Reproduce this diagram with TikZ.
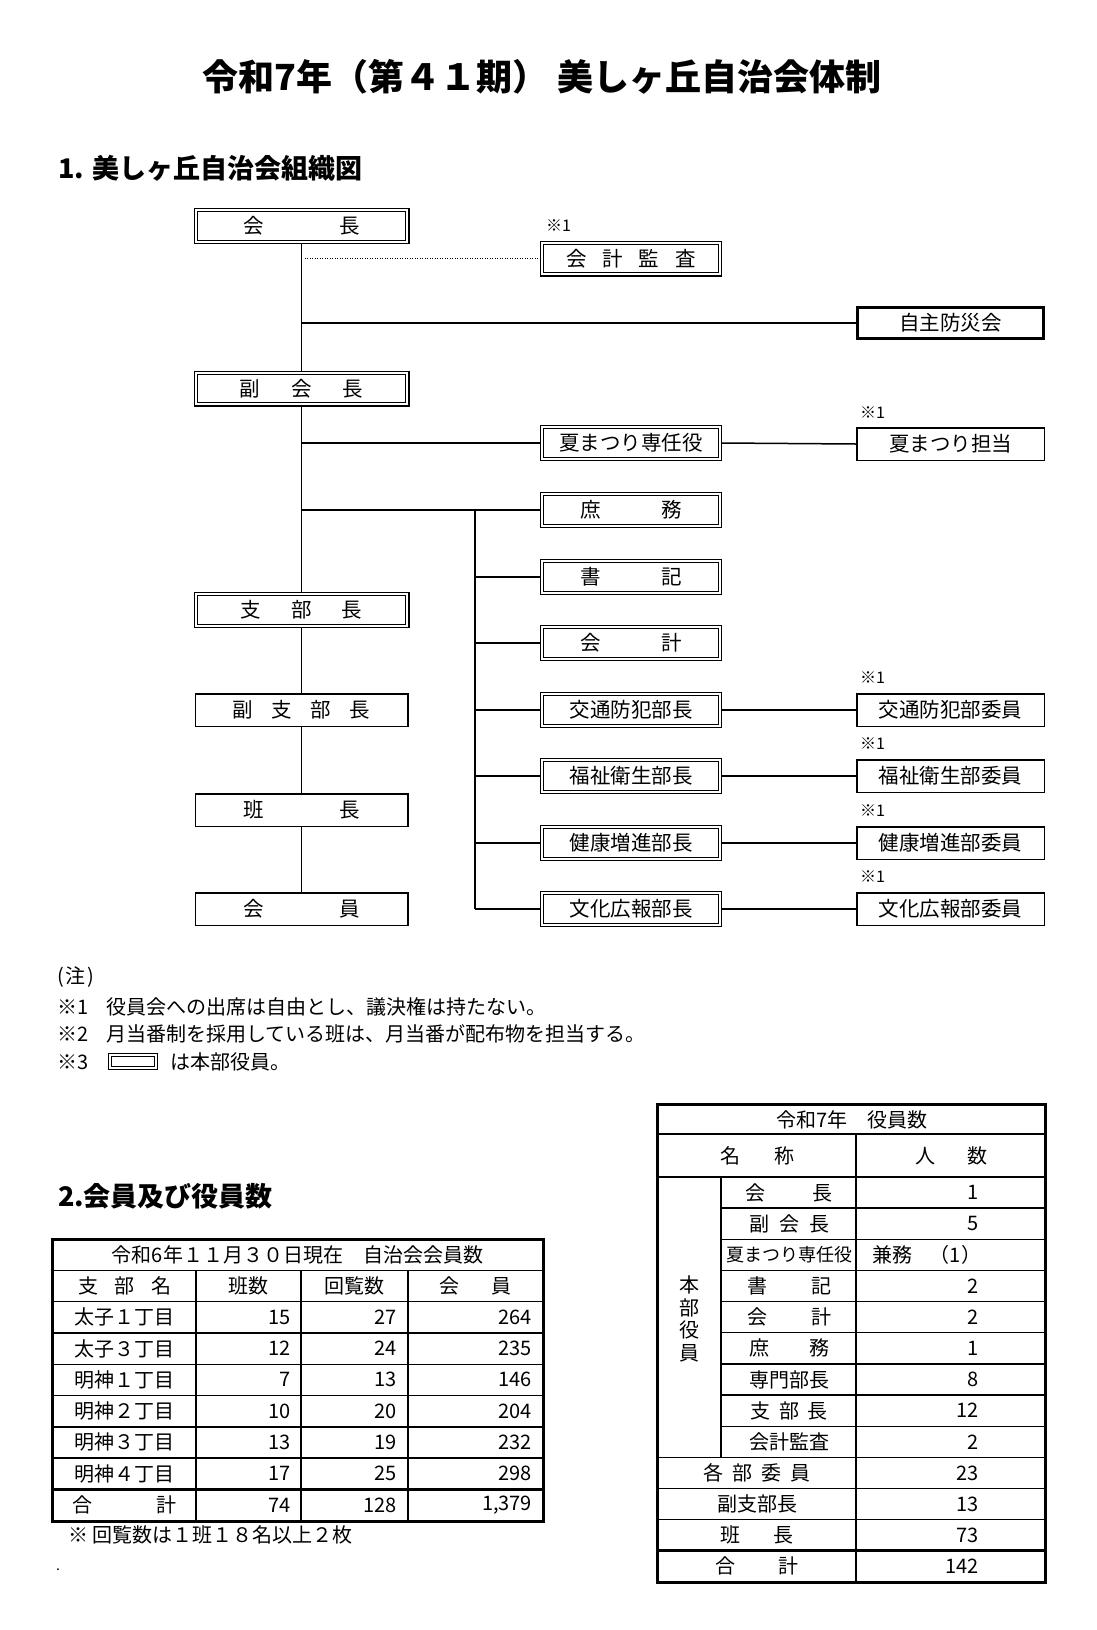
\documentclass[tikz,border=0pt]{standalone}
\usepackage{fontspec}
\setmainfont{Noto Sans CJK JP}
\usetikzlibrary{calc}
\newcommand\spr[2]{\makebox[#1pt][s]{#2}}
\newcommand\fsz[1]{\fontsize{#1}{#1}\selectfont}
\begin{document}
\begin{tikzpicture}[x=1pt,y=-1pt,
  every node/.style={inner sep=0pt, outer sep=0pt},
  conn/.style={line width=1.5pt},
  dotline/.style={line width=1.5pt, dash pattern=on 1.2pt off 1.3pt},
  dbl/.style={draw, line width=1.1pt, double, double distance=2.2pt, outer sep=2.2pt, font=\fsz{20.5}},
  lbox/.style={dbl, minimum width=211.6pt, minimum height=31.6pt},
  mbox/.style={dbl, minimum width=177.6pt, minimum height=31.6pt},
  lplain/.style={draw, line width=1.5pt, outer sep=0.75pt, minimum width=212.5pt, minimum height=32.5pt, font=\fsz{20.5}},
  rplain/.style={draw, line width=1.5pt, outer sep=0.75pt, minimum width=187.5pt, minimum height=32.5pt, font=\fsz{20.5}},
  rthick/.style={draw, line width=3pt, outer sep=1.5pt, minimum width=186pt, minimum height=31pt, font=\fsz{20.5}},
  mark1/.style={anchor=west, font=\fsz{16}},
  notetxt/.style={anchor=west, font=\fsz{20}},
  tcell/.style={font=\fsz{20}},
  tnum/.style={anchor=east, font=\fsz{20}},
  thin/.style={line width=1.4pt},
  thick/.style={line width=3pt}
]
\useasboundingbox (0,0) rectangle (1097,1630);

% ---------- titles ----------
\node[font=\fsz{36}\bfseries] (title) at (542,77) {令和7年（第４１期） 美しヶ丘自治会体制};
\node[font=\fsz{27}\bfseries, anchor=west] (h1) at (58,168) {1.\hspace{9pt}美しヶ丘自治会組織図};
\node[font=\fsz{27}\bfseries, anchor=west] (h2) at (58,1196) {2.会員及び役員数};

% ---------- org chart: left column ----------
\node[lbox] (kaicho) at (301.5,226) {\spr{116}{会\hfill 長}};
\node[lbox] (fuku) at (301.5,388.5) {\spr{124}{副\hfill 会\hfill 長}};
\node[lbox] (shibu) at (301.5,610) {\spr{122}{支\hfill 部\hfill 長}};
\node[lplain] (fshibu) at (301.5,710) {\spr{138}{副\hfill 支\hfill 部\hfill 長}};
\node[lplain] (han) at (301.5,810) {\spr{116}{班\hfill 長}};
\node[lplain] (kaiin) at (301.5,909) {\spr{116}{会\hfill 員}};

% ---------- middle column ----------
\node[mbox] (kansa) at (631,258.5) {\spr{130}{会\hfill 計\hfill 監\hfill 査}};
\node[mbox] (natsu) at (631,443) {夏まつり専任役};
\node[mbox] (shomu) at (631,510) {\spr{102}{庶\hfill 務}};
\node[mbox] (shoki) at (631,577) {\spr{102}{書\hfill 記}};
\node[mbox] (kaikei) at (631,643) {\spr{102}{会\hfill 計}};
\node[mbox] (kotsu) at (631,710) {交通防犯部長};
\node[mbox] (fukushi) at (631,776) {福祉衛生部長};
\node[mbox] (kenko) at (631,843) {健康増進部長};
\node[mbox] (bunka) at (631,909) {文化広報部長};

% ---------- right column ----------
\node[rthick] (bousai) at (950.5,323) {自主防災会};
\node[rplain] (natsutan) at (950.5,444) {夏まつり担当};
\node[rplain] (kotsui) at (950.5,710) {交通防犯部委員};
\node[rplain] (fukushii) at (950.5,776) {福祉衛生部委員};
\node[rplain] (kenkoi) at (950.5,843) {健康増進部委員};
\node[rplain] (bunkai) at (950.5,909) {文化広報部委員};

% ---------- ※1 marks ----------
\node[mark1] (m1) at (546,226) {※1};
\node[mark1] (m2) at (860,413) {※1};
\node[mark1] (m3) at (860,678) {※1};
\node[mark1] (m4) at (860,744) {※1};
\node[mark1] (m5) at (860,811) {※1};
\node[mark1] (m6) at (860,877) {※1};

% ---------- connectors ----------
\draw[conn] (kaicho.south) -- (fuku.north);
\draw[conn] (fuku.south) -- (shibu.north);
\draw[conn] (shibu.south) -- (fshibu.north);
\draw[conn] (fshibu.south) -- (han.north);
\draw[conn] (han.south) -- (kaiin.north);
\draw[dotline] ([xshift=3pt]kaicho.south |- kansa.west) -- (kansa.west);
\draw[conn] (kaicho.south |- bousai.west) -- (bousai.west);
\draw[conn] (fuku.south |- natsu.west) -- (natsu.west);
\draw[conn] (natsu.east) -- (natsutan.west);
\draw[conn] (fuku.south |- shomu.west) -- (shomu.west);
\coordinate (br) at (475,510);
\draw[conn] (br) -- (br |- bunka.west);
\foreach \t in {shoki,kaikei,kotsu,fukushi,kenko,bunka}
  \draw[conn] (br |- \t.west) -- (\t.west);
\foreach \a/\b in {kotsu/kotsui,fukushi/fukushii,kenko/kenkoi,bunka/bunkai}
  \draw[conn] (\a.east) -- (\b.west);

% ---------- notes ----------
\node[notetxt] (n0) at (57,977) {(\hspace{2pt}注\hspace{2pt})};
\node[notetxt] (n1a) at (57,1007) {※1};
\node[notetxt] (n1b) at (106,1007) {役員会への出席は自由とし、議決権は持たない。};
\node[notetxt] (n2a) at (57,1034) {※2};
\node[notetxt] (n2b) at (106,1034) {月当番制を採用している班は、月当番が配布物を担当する。};
\node[notetxt] (n3a) at (57,1062) {※3};
\node[draw, line width=1pt, double, double distance=1.6pt, minimum width=46.4pt, minimum height=13.4pt] (n3box) at (133,1061.5) {};
\node[notetxt] (n3b) at (170,1062) {は本部役員。};

% ---------- left table ----------
\draw[thin] (52,1270.3) -- (543,1270.3);
\foreach \k in {2,...,7} \draw[thin] (52,{1239+31.3*\k}) -- (543,{1239+31.3*\k});
\draw[thick] (52,1489.4) -- (543,1489.4);
\foreach \xx in {196,301,408} \draw[thin] (\xx,1270.3) -- (\xx,1521);
\draw[thick] (52,1239) rectangle (543,1521);

\node[tcell] (lt) at (297.5,1255) {令和6年１１月３０日現在　自治会会員数};
\node[tcell] (lh1) at (124.5,1286) {\spr{93}{支\hfill 部\hfill 名}};
\node[tcell] (lh2) at (248.5,1286) {班数};
\node[tcell] (lh3) at (354.5,1286) {回覧数};
\node[tcell] (lh4) at (475.5,1286) {\spr{72}{会\hfill 員}};
\foreach \n/\a/\b/\c [count=\i] in {太子１丁目/15/27/264,太子３丁目/12/24/235,明神１丁目/7/13/146,明神２丁目/10/20/204,明神３丁目/13/19/232,明神４丁目/17/25/298}{
  \node[tcell] (ln\i) at (124.5,{1301.6+31.3*(\i-0.5)}) {\n};
  \node[tnum] (la\i) at (291,{1301.6+31.3*(\i-0.5)}) {\a};
  \node[tnum] (lb\i) at (397,{1301.6+31.3*(\i-0.5)}) {\b};
  \node[tnum] (lc\i) at (532,{1301.6+31.3*(\i-0.5)}) {\c};
}
\node[tcell] (lsum) at (124.5,1505) {\spr{104}{合\hfill 計}};
\node[tnum] (lsa) at (291,1505) {74};
\node[tnum] (lsb) at (397,1505) {128};
\node[tnum] (lsc) at (532,1505) {1,379};
\node[anchor=west, font=\fsz{20}] (lfoot) at (68,1535) {※ 回覧数は１班１８名以上２枚};
\node[font=\fsz{14}] (dot) at (58,1570) {.};

% ---------- right table ----------
\draw[thin] (657,1134) -- (1045,1134);
\draw[thin] (657,1177) -- (1045,1177);
\foreach \j in {1,...,8} \draw[thin] (721,{1177+31.15*\j}) -- (1045,{1177+31.15*\j});
\foreach \j in {9,10,11} \draw[thin] (657,{1177+31.15*\j}) -- (1045,{1177+31.15*\j});
\draw[thick] (657,{1177+31.15*12}) -- (1045,{1177+31.15*12});
\draw[thin] (856,1134) -- (856,1582);
\draw[thin] (721,1177) -- (721,{1177+31.15*9});
\draw[thick] (657,1104) rectangle (1045,1582);

\node[tcell] (rt) at (852,1119.5) {令和7年　役員数};
\node[tcell] (rh1) at (757,1155.5) {\spr{74}{名\hfill 称}};
\node[tcell] (rh2) at (951,1155.5) {\spr{72}{人\hfill 数}};
\node[font=\fontsize{20}{22.7}\selectfont, align=center] (hq) at (689,1319) {本\\部\\役\\員};

\node[tcell] (r1) at (789,{1177+31.15*0.5}) {\spr{87}{会\hfill 長}};
\node[tcell] (r2) at (789,{1177+31.15*1.5}) {\spr{80}{副\hfill 会\hfill 長}};
\node[font=\fsz{18}] (r3) at (789,{1177+31.15*2.5}) {夏まつり専任役};
\node[tcell] (r4) at (789,{1177+31.15*3.5}) {\spr{84}{書\hfill 記}};
\node[tcell] (r5) at (789,{1177+31.15*4.5}) {\spr{84}{会\hfill 計}};
\node[tcell] (r6) at (789,{1177+31.15*5.5}) {\spr{80}{庶\hfill 務}};
\node[tcell] (r7) at (789,{1177+31.15*6.5}) {専門部長};
\node[tcell] (r8) at (789,{1177+31.15*7.5}) {\spr{77}{支\hfill 部\hfill 長}};
\node[tcell] (r9) at (789,{1177+31.15*8.5}) {会計監査};
\node[tcell] (r10) at (757,{1177+31.15*9.5}) {\spr{107}{各\hfill 部\hfill 委\hfill 員}};
\node[tcell] (r11) at (757,{1177+31.15*10.5}) {副支部長};
\node[tcell] (r12) at (757,{1177+31.15*11.5}) {\spr{73}{班\hfill 長}};
\node[tcell] (r13) at (757,{1177+31.15*12.5}) {\spr{83}{合\hfill 計}};

\foreach \v/\k in {1/1,5/2,2/4,2/5,1/6,8/7,12/8,2/9,23/10,13/11,73/12,142/13}
  \node[tnum] (rv\k) at (979,{1177+31.15*(\k-0.5)}) {\v};
\node[anchor=west, font=\fsz{20}] (rk) at (872,{1177+31.15*2.5}) {兼務};
\node[tnum] (rk1) at (981,{1177+31.15*2.5}) {（1）};
\end{tikzpicture}
\end{document}
